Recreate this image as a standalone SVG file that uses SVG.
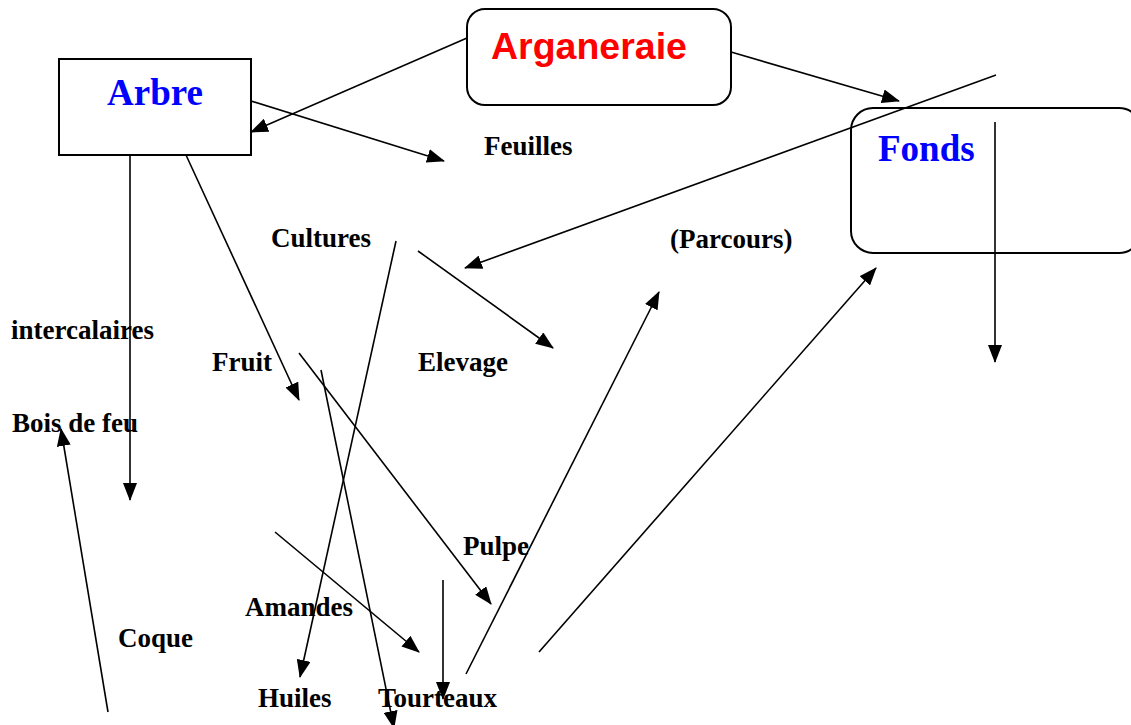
<svg xmlns="http://www.w3.org/2000/svg" width="1131" height="725" viewBox="0 0 1131 725">
<defs>
<marker id="ah" viewBox="0 0 18 14" markerWidth="18" markerHeight="14" refX="17" refY="7" orient="auto" markerUnits="userSpaceOnUse">
<path d="M0,0 L18,7 L0,14 z" fill="#000"/>
</marker>
<style>
.box{fill:#fff;stroke:#000;stroke-width:2}
.lbl{font-family:"Liberation Serif","Times New Roman",serif;font-weight:bold;font-size:27px;fill:#000}
.title{font-family:"Liberation Serif","Times New Roman",serif;font-weight:bold;font-size:37px;fill:#0000ff}
.red{font-family:"Liberation Sans",Arial,sans-serif;font-weight:bold;font-size:37.5px;fill:#ff0000}
.c line{stroke:#000;stroke-width:1.6;marker-end:url(#ah)}
</style>
</defs>
<rect width="1131" height="725" fill="#fff"/>
<g id="arbre">
<rect class="box" x="59" y="59" width="192" height="96"/>
<text class="title" x="155" y="105" text-anchor="middle">Arbre</text>
</g>
<g id="arganeraie">
<rect class="box" x="467" y="9" width="264" height="96" rx="18" ry="18"/>
<text class="red" x="491" y="59">Arganeraie</text>
</g>
<g id="fonds">
<rect class="box" x="851" y="108" width="290" height="145" rx="22" ry="22"/>
<text class="title" x="878" y="161">Fonds</text>
</g>
<g id="labels">
<text class="lbl" x="484" y="155">Feuilles</text>
<text class="lbl" x="271" y="247">Cultures</text>
<text class="lbl" x="670" y="248">(Parcours)</text>
<text class="lbl" x="11" y="339">intercalaires</text>
<text class="lbl" x="212" y="371">Fruit</text>
<text class="lbl" x="418" y="371">Elevage</text>
<text class="lbl" x="12" y="432">Bois de feu</text>
<text class="lbl" x="463" y="555">Pulpe</text>
<text class="lbl" x="245" y="616">Amandes</text>
<text class="lbl" x="118" y="647">Coque</text>
<text class="lbl" x="258" y="707">Huiles</text>
<text class="lbl" x="378" y="707">Tourteaux</text>
</g>
<g id="connectors" class="c">
<line x1="467" y1="38" x2="251" y2="132"/>
<line x1="251" y1="101" x2="444" y2="161"/>
<line x1="731" y1="52" x2="899" y2="101"/>
<line x1="996" y1="75" x2="465" y2="268"/>
<line x1="995" y1="122" x2="995" y2="362"/>
<line x1="130" y1="155" x2="130" y2="500"/>
<line x1="186" y1="155" x2="299" y2="400"/>
<line x1="396" y1="241" x2="300" y2="677"/>
<line x1="418" y1="251" x2="553" y2="348"/>
<line x1="299" y1="353" x2="491" y2="604"/>
<line x1="321" y1="370" x2="394" y2="728"/>
<line x1="275" y1="532" x2="419" y2="652"/>
<line x1="443" y1="580" x2="443" y2="699"/>
<line x1="466" y1="674" x2="659" y2="292"/>
<line x1="539" y1="652" x2="876" y2="268"/>
<line x1="108" y1="712" x2="61" y2="429"/>
</g>
</svg>
